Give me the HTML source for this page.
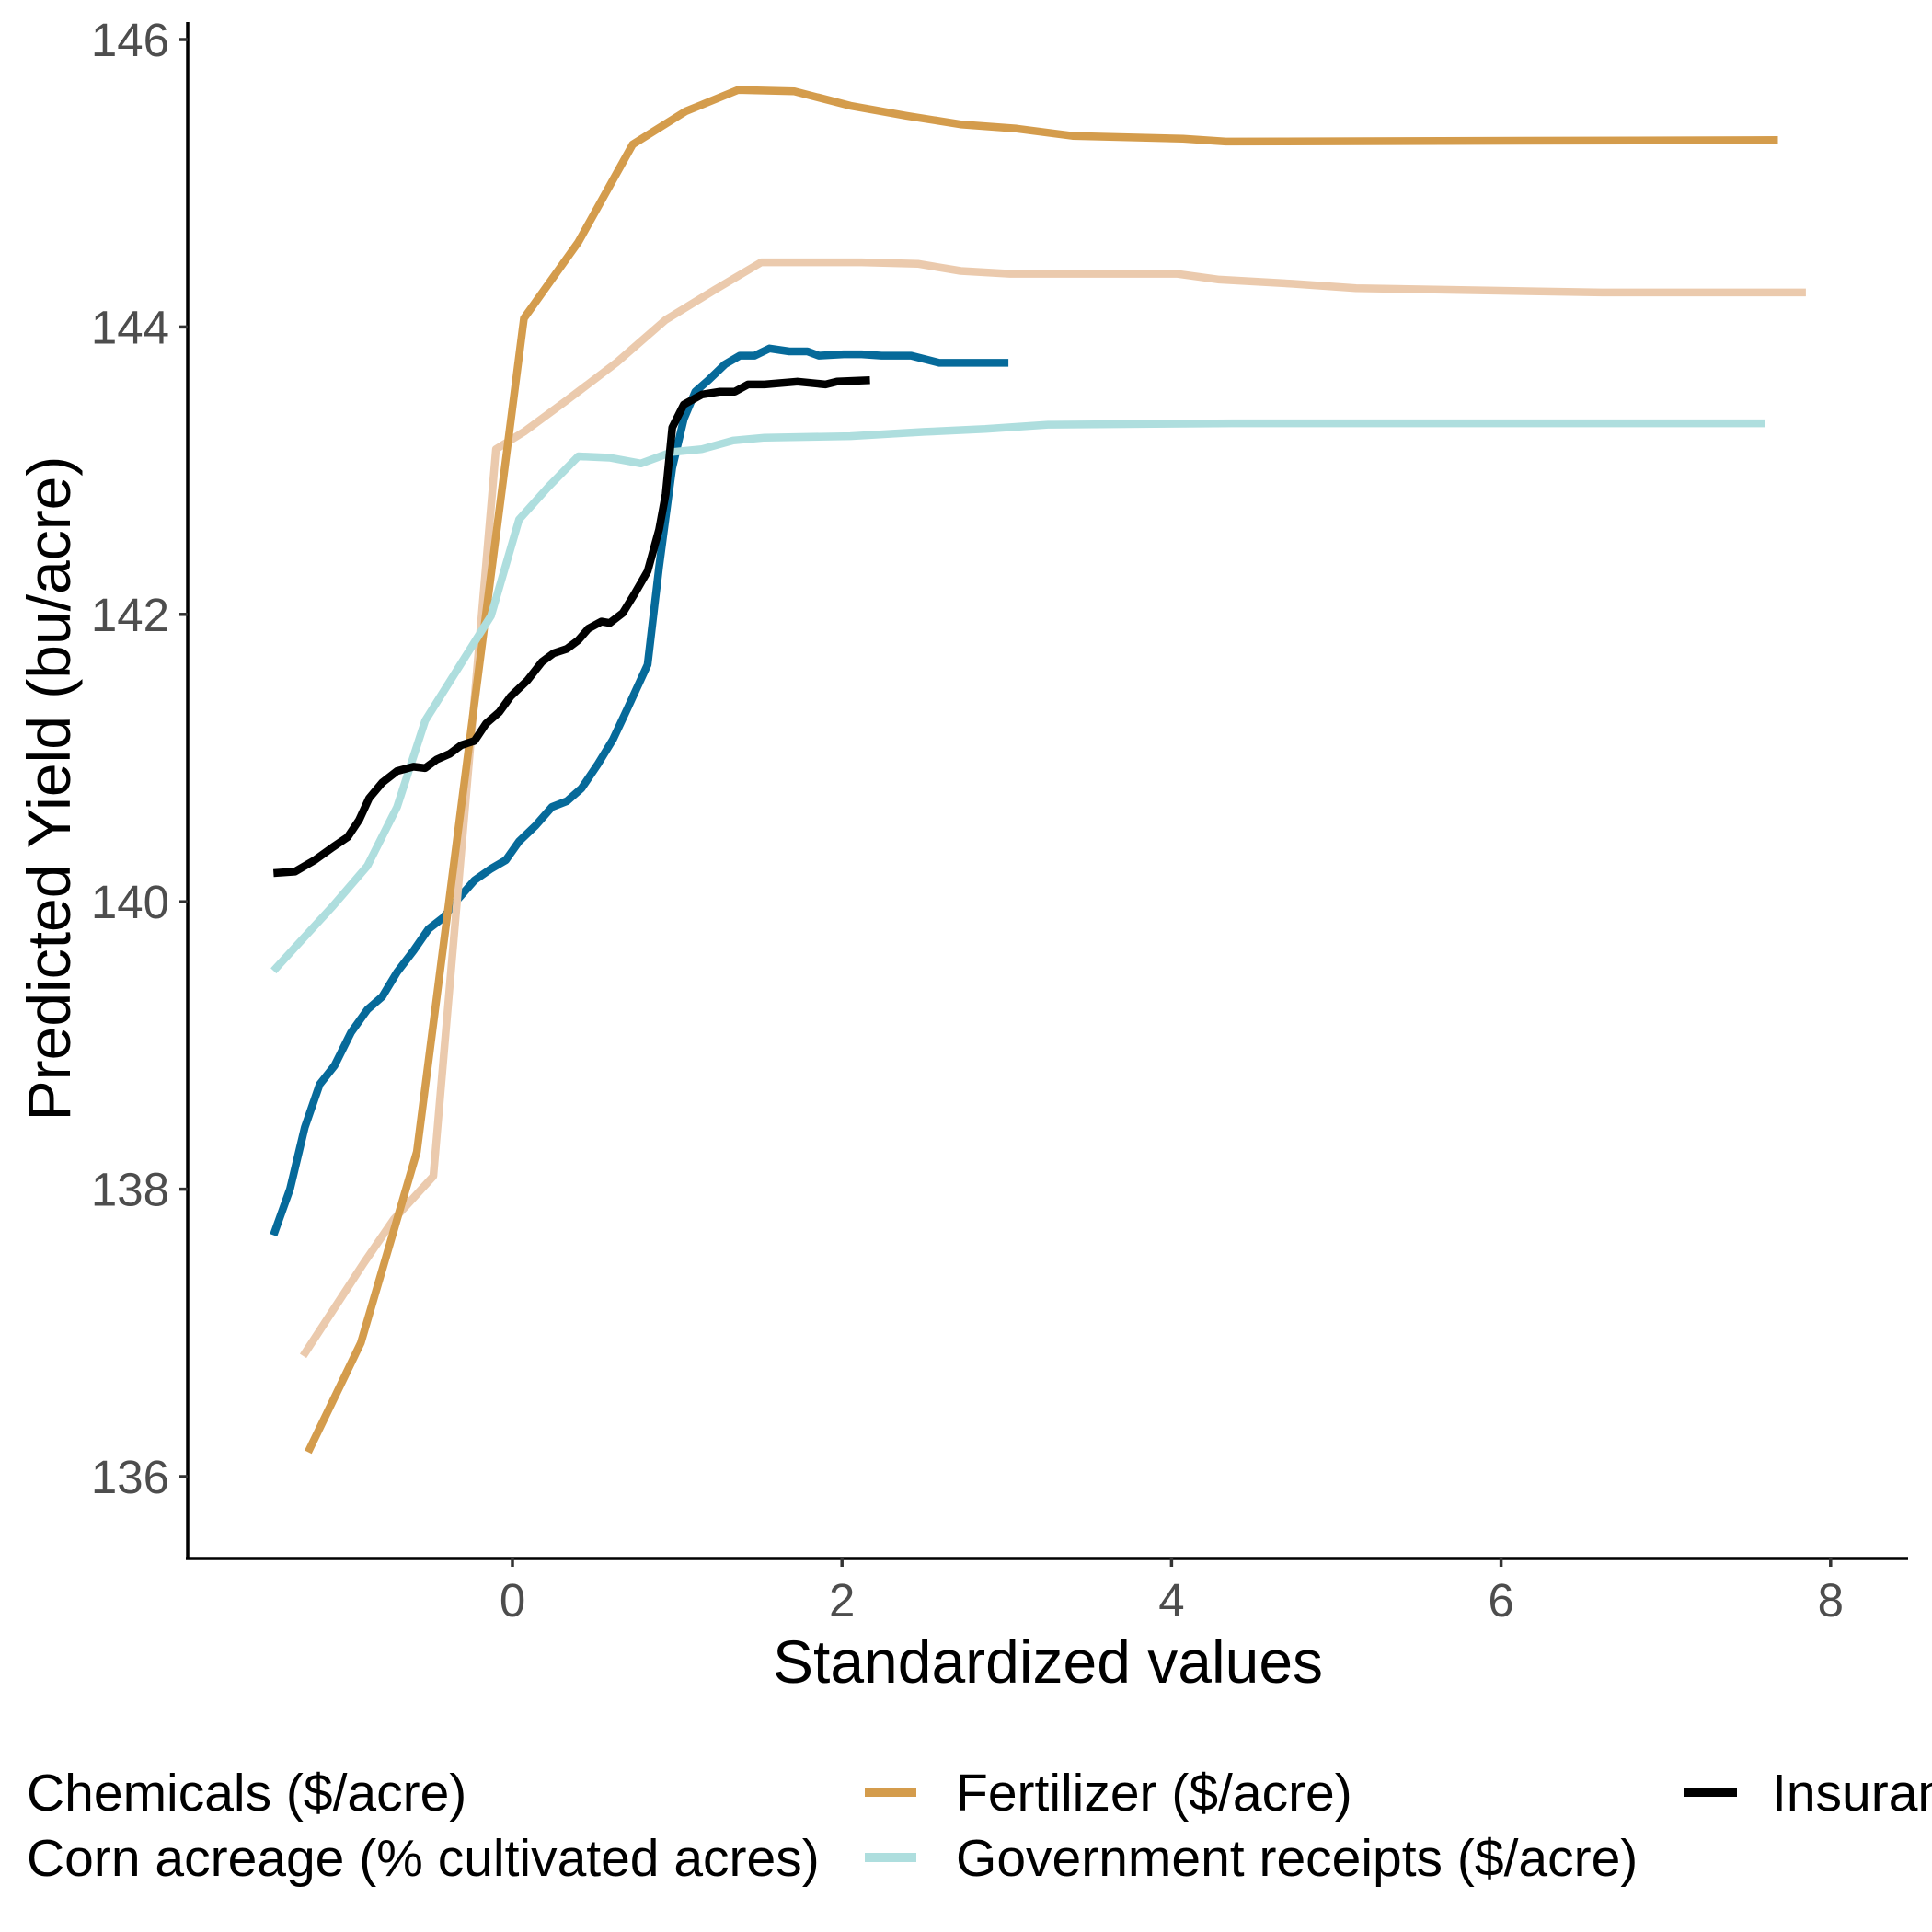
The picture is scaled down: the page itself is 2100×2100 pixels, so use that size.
<!DOCTYPE html>
<html><head><meta charset="utf-8"><style>
html,body{margin:0;padding:0;background:#fff;}
svg{display:block;font-family:"Liberation Sans",Arial,sans-serif;}
</style></head><body>
<svg id="chart" width="2100" height="2100" viewBox="0 0 2100 2100" xmlns="http://www.w3.org/2000/svg">
<rect width="2100" height="2100" fill="#fff"/>
<g id="series"></g>
<g id="axes"></g>
<text x="0" y="0" transform="translate(76,857) rotate(-90)" text-anchor="middle" font-size="66" fill="#000">Predicted Yield (bu/acre)</text>
<text x="1139" y="1829" text-anchor="middle" font-size="66" fill="#000">Standardized values</text>
<g font-size="57" fill="#000">
<text x="29" y="1968">Chemicals ($/acre)</text>
<text x="29" y="2039">Corn acreage (% cultivated acres)</text>
<rect x="940" y="1943" width="56" height="10" fill="#d49c4c"/>
<text x="1039" y="1968">Fertilizer ($/acre)</text>
<rect x="940" y="2014" width="56" height="10" fill="#aedede"/>
<text x="1039" y="2039">Government receipts ($/acre)</text>
<rect x="1830" y="1943" width="58" height="10" fill="#000"/>
<text x="1926" y="1968">Insurance ($/acre)</text>
</g>
</svg>
<script>
const xTicks = [0, 2, 4, 6, 8];
const yTicks = [136, 138, 140, 142, 144, 146];
const chemX = [-1.45,-1.35,-1.26,-1.17,-1.08,-0.98,-0.88,-0.79,-0.70,-0.60,-0.51,-0.42,-0.33,-0.23,-0.13,-0.04,0.04,0.14,0.24,0.33,0.42,0.52,0.61,0.70,0.82,0.89,0.97,1.04,1.11,1.19,1.29,1.38,1.47,1.56,1.68,1.79,1.86,2.01,2.12,2.24,2.42,2.59,3.01];
const chemY = [137.68,138.00,138.43,138.73,138.86,139.09,139.25,139.34,139.51,139.66,139.81,139.89,140.02,140.15,140.23,140.29,140.42,140.53,140.66,140.70,140.79,140.96,141.13,141.35,141.65,142.33,143.02,143.36,143.55,143.63,143.74,143.80,143.80,143.85,143.83,143.83,143.80,143.81,143.81,143.80,143.80,143.75,143.75];
const cornX = [-1.27,-0.90,-0.72,-0.48,-0.10,0.07,0.33,0.63,0.93,1.23,1.51,2.12,2.46,2.72,3.02,4.03,4.29,4.74,5.12,6.61,7.85];
const cornY = [136.84,137.49,137.79,138.09,143.15,143.27,143.49,143.75,144.05,144.26,144.45,144.45,144.44,144.39,144.37,144.37,144.33,144.30,144.27,144.24,144.24];
const fertX = [-1.24,-0.92,-0.58,0.07,0.40,0.73,1.05,1.37,1.71,2.05,2.39,2.72,3.06,3.40,4.07,4.33,7.68];
const fertY = [136.17,136.93,138.26,144.06,144.59,145.27,145.50,145.65,145.64,145.54,145.47,145.41,145.38,145.33,145.31,145.29,145.30];
const govX = [-1.45,-1.09,-0.88,-0.70,-0.53,-0.13,0.04,0.22,0.40,0.59,0.78,0.97,1.15,1.34,1.53,2.05,2.50,2.87,3.25,4.37,7.60];
const govY = [139.52,139.97,140.25,140.66,141.26,141.99,142.66,142.89,143.10,143.09,143.05,143.13,143.15,143.21,143.23,143.24,143.27,143.29,143.32,143.33,143.33];
const insX = [-1.45,-1.32,-1.20,-1.09,-1.00,-0.93,-0.87,-0.79,-0.70,-0.60,-0.53,-0.46,-0.38,-0.31,-0.23,-0.16,-0.08,-0.01,0.09,0.18,0.25,0.33,0.40,0.46,0.54,0.59,0.67,0.74,0.82,0.89,0.93,0.97,1.04,1.15,1.26,1.35,1.43,1.53,1.73,1.90,1.97,2.17];
const insY = [140.20,140.21,140.29,140.38,140.45,140.57,140.72,140.83,140.91,140.94,140.93,140.99,141.03,141.09,141.12,141.24,141.32,141.43,141.54,141.67,141.73,141.76,141.82,141.90,141.95,141.94,142.01,142.14,142.30,142.59,142.84,143.30,143.46,143.53,143.55,143.55,143.60,143.60,143.62,143.60,143.62,143.63];

const NS = 'http://www.w3.org/2000/svg';
function xs(v){ return 557 + 179.1 * v; }
function ys(v){ return 43 + (146 - v) * 156.2; }

const seriesG = document.getElementById('series');
const seriesList = [
  ['chemicals-line', chemX, chemY, '#066a9a'],
  ['corn-acreage-line', cornX, cornY, '#ebcaad'],
  ['fertilizer-line', fertX, fertY, '#d49c4c'],
  ['government-receipts-line', govX, govY, '#aedede'],
  ['insurance-line', insX, insY, '#000000']
];
seriesList.forEach(function(s){
  const p = document.createElementNS(NS, 'polyline');
  
  
  p.setAttribute('points', s[1].map(function(x, i){ return xs(x).toFixed(1) + ',' + ys(s[2][i]).toFixed(1); }).join(' '));
  p.setAttribute('fill', 'none');
  p.setAttribute('stroke', s[3]);
  p.setAttribute('stroke-width', '8.5');
  p.setAttribute('stroke-linejoin', 'round');
  seriesG.appendChild(p);
});

const axesG = document.getElementById('axes');
function line(name, x1, y1, x2, y2, w, c){
  const l = document.createElementNS(NS, 'line');
  
  
  l.setAttribute('x1', x1); l.setAttribute('y1', y1);
  l.setAttribute('x2', x2); l.setAttribute('y2', y2);
  l.setAttribute('stroke', c); l.setAttribute('stroke-width', w);
  axesG.appendChild(l);
}
function label(name, x, y, txt, anchor){
  const t = document.createElementNS(NS, 'text');
  
  
  t.setAttribute('x', x); t.setAttribute('y', y);
  t.setAttribute('text-anchor', anchor);
  t.setAttribute('font-size', '51');
  t.setAttribute('fill', '#4d4d4d');
  t.textContent = txt;
  axesG.appendChild(t);
}
line('y-axis-line', 204, 24, 204, 1695, 3.5, '#000');
line('x-axis-line', 202, 1694, 2074, 1694, 3.5, '#000');
yTicks.forEach(function(v){
  line('y-tick', 195, ys(v), 204, ys(v), 3.5, '#333');
  label('y-tick-label', 184, ys(v) + 18, String(v), 'end');
});
xTicks.forEach(function(v){
  line('x-tick', xs(v), 1694, xs(v), 1703, 3.5, '#333');
  label('x-tick-label', xs(v), 1757, String(v), 'middle');
});
</script>
</body></html>
